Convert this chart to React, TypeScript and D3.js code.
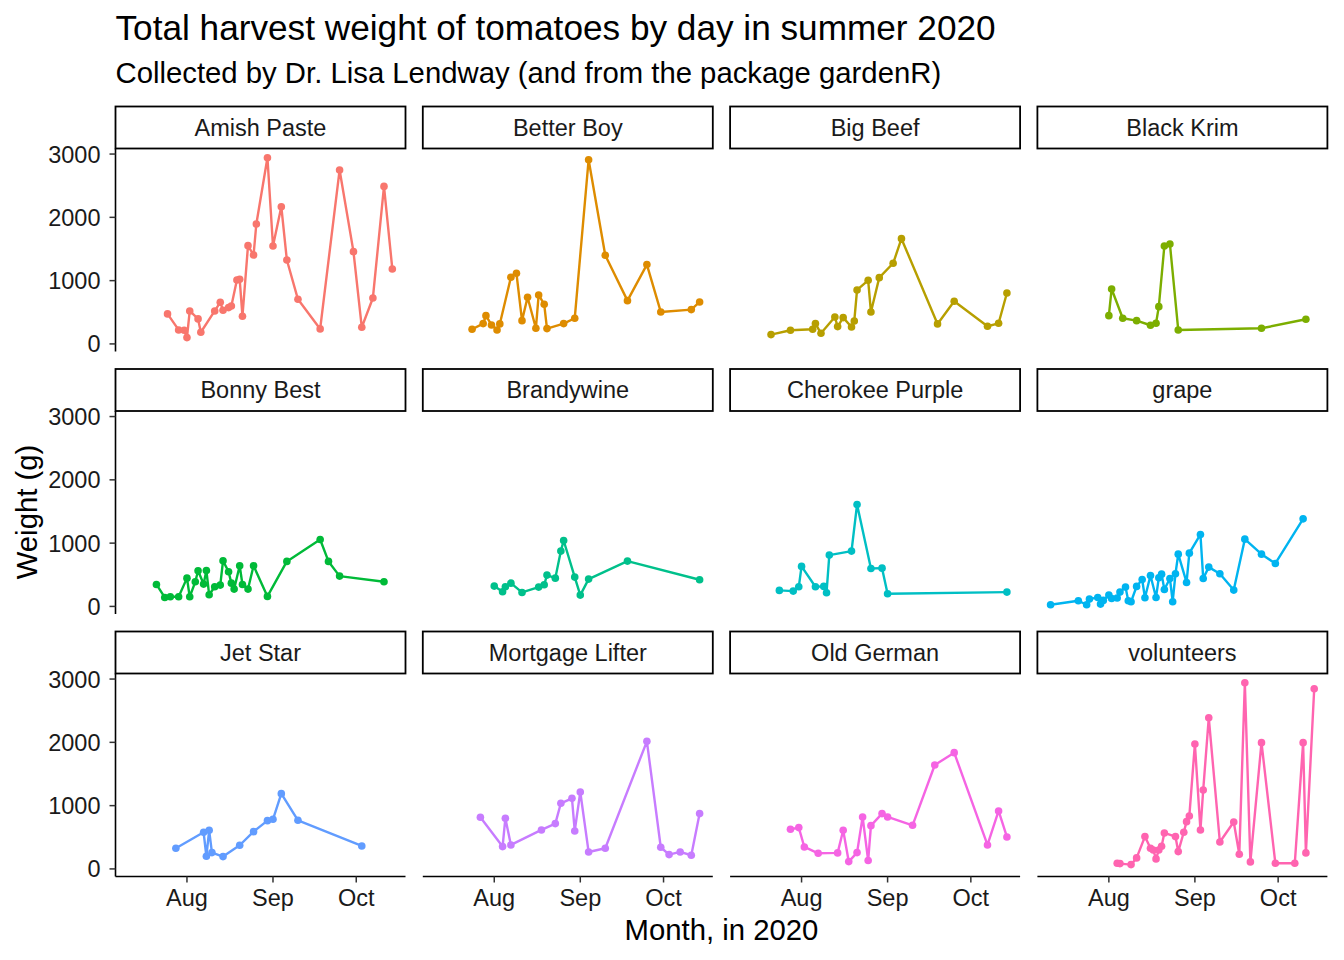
import React from "react";
import * as d3 from "d3";

const varieties = [
  "Amish Paste", "Better Boy", "Big Beef", "Black Krim",
  "Bonny Best", "Brandywine", "Cherokee Purple", "grape",
  "Jet Star", "Mortgage Lifter", "Old German", "volunteers",
];

const palette = [
  "#F8766D", "#DE8C00", "#B79F00", "#7CAE00", "#00BA38", "#00C08B",
  "#00BFC4", "#00B4F0", "#619CFF", "#C77CFF", "#F564E3", "#FF64B0",
];

const amishPaste: [string, number][] = [["07-25",474],["07-29",221],["07-31",216],["08-01",100],["08-02",521],["08-05",395],["08-06",184],["08-11",521],["08-13",658],["08-14",532],["08-16",574],["08-17",600],["08-19",1010],["08-20",1021],["08-21",437],["08-23",1553],["08-25",1405],["08-26",1895],["08-30",2942],["09-01",1547],["09-04",2168],["09-06",1326],["09-10",705],["09-18",237],["09-25",2747],["09-30",1458],["10-03",263],["10-07",726],["10-11",2489],["10-14",1184]];
const betterBoy: [string, number][] = [["07-24",232],["07-28",321],["07-29",447],["07-31",300],["08-02",221],["08-03",316],["08-07",1053],["08-09",1116],["08-11",368],["08-13",737],["08-16",247],["08-17",774],["08-19",626],["08-20",242],["08-26",321],["08-30",405],["09-04",2910],["09-10",1400],["09-18",684],["09-25",1253],["09-30",505],["10-11",542],["10-14",663]];
const bigBeef: [string, number][] = [["07-21",147],["07-28",216],["08-05",232],["08-06",321],["08-08",168],["08-13",426],["08-14",274],["08-16",416],["08-19",268],["08-20",363],["08-21",853],["08-25",1005],["08-26",505],["08-29",1047],["09-03",1274],["09-06",1663],["09-19",316],["09-25",674],["10-07",279],["10-11",326],["10-14",805]];
const blackKrim: [string, number][] = [["08-01",447],["08-02",868],["08-06",405],["08-11",368],["08-16",295],["08-18",326],["08-19",589],["08-21",1547],["08-23",1579],["08-26",221],["09-25",247],["10-11",389]];
const bonnyBest: [string, number][] = [["07-21",347],["07-24",142],["07-26",153],["07-29",153],["08-01",447],["08-02",153],["08-04",389],["08-05",563],["08-07",353],["08-08",568],["08-09",184],["08-11",310],["08-13",337],["08-14",721],["08-16",547],["08-17",368],["08-18",274],["08-20",642],["08-21",347],["08-23",274],["08-25",642],["08-30",158],["09-06",711],["09-18",1058],["09-21",711],["09-25",479],["10-11",389]];
const brandywine: [string, number][] = [["08-01",321],["08-04",232],["08-05",310],["08-07",368],["08-11",221],["08-17",305],["08-19",342],["08-20",495],["08-23",447],["08-25",874],["08-26",1042],["08-30",463],["09-01",179],["09-04",432],["09-18",716],["10-14",421]];
const cherokeePurple: [string, number][] = [["07-24",253],["07-29",242],["07-31",310],["08-01",632],["08-06",310],["08-09",316],["08-10",216],["08-11",811],["08-19",874],["08-21",1610],["08-26",600],["08-30",605],["09-01",200],["10-14",226]];
const grape: [string, number][] = [["07-11",26],["07-21",89],["07-24",26],["07-25",116],["07-28",142],["07-29",37],["07-30",95],["08-01",179],["08-02",126],["08-04",132],["08-05",226],["08-07",305],["08-08",89],["08-09",74],["08-11",316],["08-13",426],["08-14",137],["08-16",489],["08-18",142],["08-19",453],["08-20",510],["08-21",268],["08-23",442],["08-24",74],["08-25",516],["08-26",826],["08-29",379],["08-30",842],["09-03",1137],["09-04",442],["09-06",621],["09-10",516],["09-15",258],["09-19",1063],["09-25",826],["09-30",679],["10-10",1384]];
const jetStar: [string, number][] = [["07-28",326],["08-07",579],["08-08",200],["08-09",610],["08-10",258],["08-14",195],["08-20",374],["08-25",589],["08-30",763],["09-01",784],["09-04",1189],["09-10",768],["10-03",363]];
const mortgageLifter: [string, number][] = [["07-27",816],["08-04",353],["08-05",800],["08-07",379],["08-18",616],["08-23",716],["08-25",1037],["08-29",1116],["08-30",600],["09-01",1216],["09-04",268],["09-10",326],["09-25",2016],["09-30",342],["10-03",226],["10-07",268],["10-11",216],["10-14",874]];
const oldGerman: [string, number][] = [["07-28",626],["07-31",653],["08-02",347],["08-07",247],["08-14",253],["08-16",611],["08-18",116],["08-21",258],["08-23",821],["08-25",132],["08-26",684],["08-30",874],["09-01",821],["09-10",689],["09-18",1642],["09-25",1837],["10-07",379],["10-11",916],["10-14",505]];
const volunteers: [string, number][] = [["08-04",89],["08-05",84],["08-09",68],["08-11",174],["08-14",511],["08-16",326],["08-17",300],["08-18",158],["08-19",300],["08-20",358],["08-21",568],["08-25",511],["08-26",274],["08-28",579],["08-29",747],["08-30",837],["09-01",1974],["09-03",616],["09-04",1247],["09-06",2389],["09-10",426],["09-15",742],["09-17",232],["09-19",2942],["09-21",111],["09-25",1995],["09-30",89],["10-07",89],["10-10",1995],["10-11",253],["10-14",2847]];

const seriesList = [
  amishPaste, betterBoy, bigBeef, blackKrim, bonnyBest, brandywine,
  cherokeePurple, grape, jetStar, mortgageLifter, oldGerman, volunteers,
];

const xTickDates = ["08-01", "09-01", "10-01"];
const xTickLabels = ["Aug", "Sep", "Oct"];
const yTicks = [0, 1000, 2000, 3000];

const titleText = "Total harvest weight of tomatoes by day in summer 2020";
const subtitleText = "Collected by Dr. Lisa Lendway (and from the package gardenR)";
const xTitle = "Month, in 2020";
const yTitle = "Weight (g)";

const parseDay = (s: string) => new Date(2020, +s.slice(0, 2) - 1, +s.slice(3, 5));

const FONT = "'Liberation Sans', Arial, Helvetica, sans-serif";

export default function App() {
  const W = 290;
  const H = 203;
  const left0 = 115.5;
  const colPitch = 307.3;
  const top0 = 148.5;
  const rowPitch = 262.5;
  const stripH = 42;
  const nCol = 4;

  const allPts = seriesList.flatMap((s) => s.map(([d, v]) => ({ date: parseDay(d), v })));
  const [dMin, dMax] = d3.extent(allPts, (p) => p.date.getTime()) as [number, number];
  const [vMin, vMax] = d3.extent(allPts, (p) => p.v) as [number, number];
  const dPad = (dMax - dMin) * 0.05;
  const vPad = (vMax - vMin) * 0.05;

  const x = d3.scaleTime().domain([new Date(dMin - dPad), new Date(dMax + dPad)]).range([0, W]);
  const y = d3.scaleLinear().domain([vMin - vPad, vMax + vPad]).range([H, 0]);

  const line = d3
    .line<{ date: Date; v: number }>()
    .x((p) => x(p.date))
    .y((p) => y(p.v));

  const nRow = Math.ceil(varieties.length / nCol);

  return (
    <svg
      width={1344}
      height={960}
      style={{ position: "absolute", left: 0, top: 0, background: "#fff" }}
      fontFamily={FONT}
    >
      <rect x={0} y={0} width={1344} height={960} fill="#fff" />
      <text x={left0} y={40} fontSize={35.2} fill="#000">{titleText}</text>
      <text x={left0} y={83} fontSize={29.3} fill="#000">{subtitleText}</text>

      {varieties.map((name, i) => {
        const col = i % nCol;
        const row = Math.floor(i / nCol);
        const px = left0 + col * colPitch;
        const py = top0 + row * rowPitch;
        const pts = seriesList[i]
          .map(([d, v]) => ({ date: parseDay(d), v }))
          .sort((a, b) => a.date.getTime() - b.date.getTime());
        const color = palette[i];
        return (
          <g key={name} transform={`translate(${px},${py})`}>
            <rect x={0} y={-stripH} width={W} height={stripH} fill="#fff" stroke="#000" strokeWidth={1.8} />
            <text x={W / 2} y={-stripH / 2} dy="0.36em" textAnchor="middle" fontSize={23.5} fill="#1A1A1A">
              {name}
            </text>
            <path d={line(pts) || ""} fill="none" stroke={color} strokeWidth={2.4} strokeLinejoin="round" />
            {pts.map((p, j) => (
              <circle key={j} cx={x(p.date)} cy={y(p.v)} r={3.8} fill={color} />
            ))}
            {col === 0 && (
              <g>
                <line x1={0} x2={0} y1={0} y2={H} stroke="#000" strokeWidth={1.6} />
                {yTicks.map((t) => (
                  <g key={t} transform={`translate(0,${y(t)})`}>
                    <line x1={-6} x2={0} stroke="#333" strokeWidth={1.5} />
                    <text x={-15} dy="0.36em" textAnchor="end" fontSize={23.5} fill="#1A1A1A">
                      {t}
                    </text>
                  </g>
                ))}
              </g>
            )}
            {row === nRow - 1 && (
              <g>
                <line x1={0} x2={W} y1={H} y2={H} stroke="#000" strokeWidth={1.6} />
                {xTickDates.map((d, k) => (
                  <g key={d} transform={`translate(${x(parseDay(d))},${H})`}>
                    <line y1={0} y2={6} stroke="#333" strokeWidth={1.5} />
                    <text y={29.5} textAnchor="middle" fontSize={23.5} fill="#1A1A1A">
                      {xTickLabels[k]}
                    </text>
                  </g>
                ))}
              </g>
            )}
          </g>
        );
      })}

      <text x={left0 + (3 * colPitch + W) / 2} y={940} textAnchor="middle" fontSize={29.3} fill="#000">
        {xTitle}
      </text>
      <text
        transform={`translate(37,512) rotate(-90)`}
        textAnchor="middle"
        fontSize={29.3}
        fill="#000"
      >
        {yTitle}
      </text>
    </svg>
  );
}
